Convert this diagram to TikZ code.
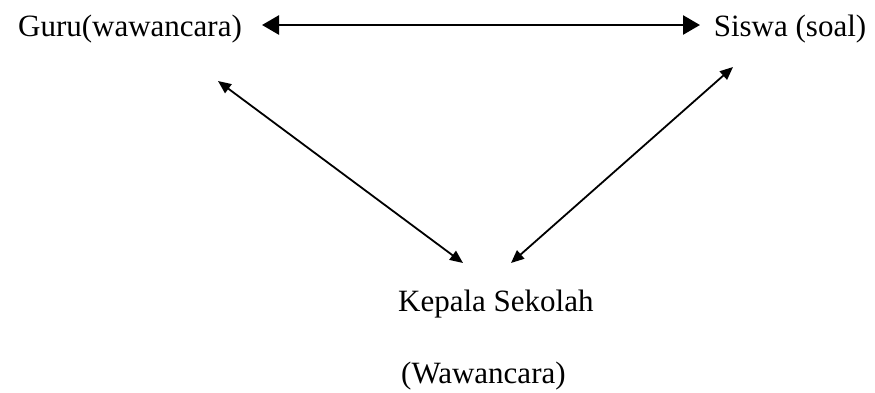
\documentclass[tikz,border=0pt]{standalone}
\usepackage{fontspec}
\setmainfont{Liberation Serif}
\usetikzlibrary{arrows.meta}
\begin{document}
\begin{tikzpicture}[x=1pt,y=-1pt,
  lbl/.style={inner sep=0pt,font=\fontsize{31}{36}\selectfont},
  toparrow/.style={line width=2.6pt,{Triangle[length=17pt,width=19pt]}-{Triangle[length=17pt,width=19pt]}},
  diagarrow/.style={line width=1.8pt,{Triangle[length=13pt,width=11pt]}-{Triangle[length=13pt,width=11pt]}}]
\useasboundingbox (0,0) rectangle (875,392);
\node[lbl,anchor=base] (guru) at (130,36) {Guru(wawancara)};
\node[lbl,anchor=base] (siswa) at (790,36) {Siswa (soal)};
\node[lbl,anchor=base west] (kepala) at (398,311) {Kepala Sekolah};
\node[lbl,anchor=base west] (waw) at (401,383) {(Wawancara)};
\coordinate (tl) at (262,25);
\coordinate (tr) at (700,25);
\coordinate (gl) at (218,81);
\coordinate (kl) at (463,263);
\coordinate (kr) at (511,263);
\coordinate (sr) at (733,67);
\draw[toparrow] (tl) -- (tr);
\draw[diagarrow] (gl) -- (kl);
\draw[diagarrow] (kr) -- (sr);
\end{tikzpicture}
\end{document}
